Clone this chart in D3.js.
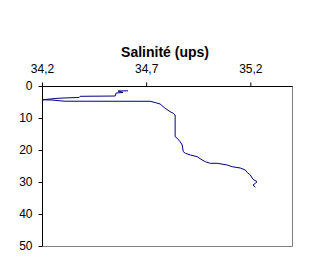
<!DOCTYPE html>
<html lang="fr">
<head>
<meta charset="UTF-8">
<title>Salinité (ups)</title>
<script src="https://d3js.org/d3.v7.min.js"></script>
<style>
  body { margin: 0; background: #fff; }
  text { font-family: "Liberation Sans", Arial, sans-serif; }
  .axis text { font-size: 12px; fill: #000; }
</style>
</head>
<body>
<svg width="321" height="273"></svg>
<script>
// profil de salinité (ups) en fonction de la profondeur (m)
const salinity = [34.613, 34.565, 34.589, 34.556, 34.551, 34.383, 34.378, 34.301, 34.263, 34.229,
  34.200, 34.248, 34.306, 34.719, 34.743, 34.767, 34.791, 34.815, 34.830, 34.839,
  34.839, 34.849, 34.863, 34.873, 34.878, 34.888, 34.912, 34.945, 34.969, 34.984,
  35.008, 35.041, 35.089, 35.113, 35.152, 35.176, 35.186, 35.200, 35.213, 35.232,
  35.224, 35.213, 35.224];
const depth = [1.50, 1.56, 2.03, 2.19, 3.13, 3.22, 3.59, 3.75, 3.91, 4.13,
  4.31, 4.38, 4.75, 4.78, 5.16, 5.63, 6.97, 8.03, 8.53, 9.06,
  15.84, 16.34, 17.41, 18.44, 20.53, 21.03, 21.56, 22.09, 23.13, 23.66,
  24.16, 24.16, 24.69, 25.22, 25.63, 26.25, 27.09, 27.81, 29.16, 29.91,
  30.41, 30.94, 31.66];
const xTicks = [34.2, 34.7, 35.2];
const yTicks = [0, 10, 20, 30, 40, 50];

const svg = d3.select("svg");
const mLeft = 42, mTop = 86, mRight = 292, mBottom = 246;

const x = d3.scaleLinear().domain([34.2, 35.4]).range([mLeft, mRight]);
const y = d3.scaleLinear().domain([0, 50]).range([mTop, mBottom]);

// cadre gris (droite et bas)
svg.append("path")
  .attr("d", `M${mRight + 0.5},${mTop}V${mBottom + 0.5}H${mLeft}`)
  .attr("fill", "none")
  .attr("stroke", "#808080");

const fmt = d => d3.format(".1f")(d).replace(".", ",");

const gx = svg.append("g").attr("class", "axis")
  .attr("transform", `translate(0,${mTop + 0.5})`)
  .call(d3.axisTop(x).tickValues(xTicks).tickFormat(fmt).tickSize(4).tickPadding(10));
const gy = svg.append("g").attr("class", "axis")
  .attr("transform", `translate(${mLeft + 0.5},0)`)
  .call(d3.axisLeft(y).tickValues(yTicks).tickSize(4).tickPadding(6));
[gx, gy].forEach(g => {
  g.select(".domain").attr("stroke", "#000");
  g.selectAll(".tick line").attr("stroke", "#000");
  g.selectAll("text").attr("font-family", "Liberation Sans, Arial, sans-serif");
});
gx.select(".domain").attr("d", `M${mLeft},0H${mRight + 0.5}`);
gy.select(".domain").attr("d", `M0,${mTop}V${mBottom}`);

const pts = salinity.map((s, i) => [s, depth[i]]);
svg.append("path")
  .datum(pts)
  .attr("fill", "none")
  .attr("stroke", "#000080")
  .attr("stroke-width", 1)
  .attr("d", d3.line().x(d => x(d[0])).y(d => y(d[1])));

svg.append("text")
  .attr("x", 165).attr("y", 57)
  .attr("text-anchor", "middle")
  .attr("font-size", "14px")
  .attr("font-weight", "bold")
  .text("Salinité (ups)");
</script>
</body>
</html>
